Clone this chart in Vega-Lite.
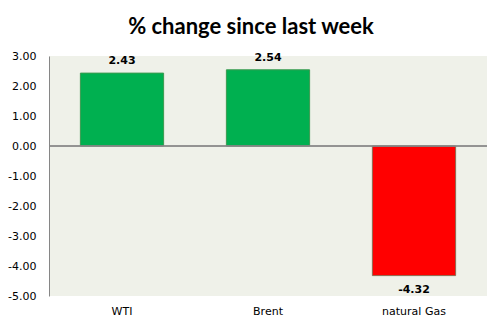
{
  "$schema": "https://vega.github.io/schema/vega-lite/v6.json",
  "width": 438,
  "height": 240,
  "autosize": {"type": "none"},
  "padding": {"left": 49, "top": 56, "right": 15, "bottom": 32},
  "background": "white",
  "title": {
    "text": "% change since last week",
    "font": "Lato",
    "fontSize": 22,
    "fontWeight": "bold",
    "color": "black",
    "anchor": "middle",
    "dx": -17,
    "offset": 11
  },
  "data": {
    "values": [
      {"cat": "WTI", "value": 2.43, "label": "2.43", "sign": "pos"},
      {"cat": "Brent", "value": 2.54, "label": "2.54", "sign": "pos"},
      {"cat": "natural Gas", "value": -4.32, "label": "-4.32", "sign": "neg"}
    ]
  },
  "encoding": {
    "x": {
      "field": "cat",
      "type": "nominal",
      "sort": null,
      "scale": {"paddingInner": 0.43, "paddingOuter": 0.215},
      "axis": {
        "title": null,
        "domain": false,
        "ticks": false,
        "labelAngle": 0,
        "labelFont": "DejaVu Sans",
        "labelFontSize": 11,
        "labelColor": "black",
        "labelPadding": 9
      }
    },
    "y": {
      "field": "value",
      "type": "quantitative",
      "scale": {"domain": [-5, 3], "nice": false, "zero": false},
      "axis": {
        "title": null,
        "values": [-5, -4, -3, -2, -1, 0, 1, 2, 3],
        "labelExpr": "replace(format(datum.value, '.2f'), '\u2212', '-')",
        "labelOverlap": false,
        "labelBound": false,
        "grid": false,
        "domain": true,
        "domainColor": "#868686",
        "ticks": false,
        "labelFont": "DejaVu Sans",
        "labelFontSize": 11,
        "labelColor": "black",
        "labelPadding": 13
      }
    }
  },
  "layer": [
    {
      "mark": {"type": "bar", "strokeWidth": 1},
      "encoding": {
        "fill": {
          "field": "sign",
          "type": "nominal",
          "scale": {"domain": ["pos", "neg"], "range": ["#00B050", "#FF0000"]},
          "legend": null
        },
        "stroke": {
          "field": "sign",
          "type": "nominal",
          "scale": {"domain": ["pos", "neg"], "range": ["#3C9A50", "#8C6A50"]},
          "legend": null
        }
      }
    },
    {
      "mark": {"type": "rule", "color": "#868686", "strokeWidth": 1},
      "encoding": {"y": {"datum": 0, "type": "quantitative"}, "x": null}
    },
    {
      "transform": [{"filter": "datum.value >= 0"}],
      "mark": {"type": "text", "font": "DejaVu Sans", "fontSize": 11, "fontWeight": "bold", "color": "black", "dy": -12},
      "encoding": {
        "text": {"field": "label"}
      }
    },
    {
      "transform": [{"filter": "datum.value < 0"}],
      "mark": {"type": "text", "font": "DejaVu Sans", "fontSize": 11, "fontWeight": "bold", "color": "black", "dy": 14},
      "encoding": {
        "text": {"field": "label"}
      }
    }
  ],
  "config": {
    "view": {"stroke": null, "fill": "#EFF1E9"},
    "axis": {"labelOverlap": false}
  }
}
